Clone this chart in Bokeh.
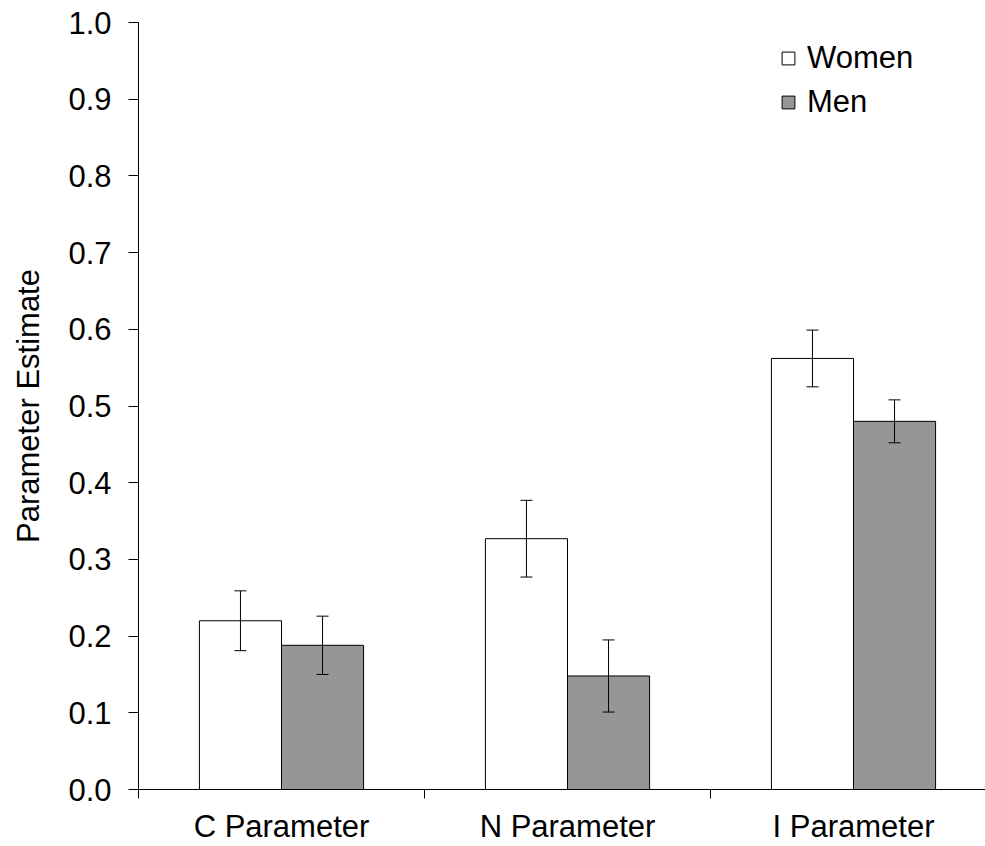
from bokeh.plotting import figure
from bokeh.models import (ColumnDataSource, Range1d, FixedTicker, Whisker, TeeHead,
                          Legend, LegendItem, NumeralTickFormatter)
from bokeh.embed import file_html
from bokeh.resources import INLINE

categories = ["C Parameter", "N Parameter", "I Parameter"]
women = [0.220, 0.327, 0.562]
women_err = [0.039, 0.050, 0.037]
men = [0.188, 0.148, 0.480]
men_err = [0.038, 0.047, 0.028]
y_ticks = [0.0, 0.1, 0.2, 0.3, 0.4, 0.5, 0.6, 0.7, 0.8, 0.9, 1.0]

FONT = "Liberation Sans"
FS = "31px"
BAR_W = 0.287
centers = [i + 0.5 for i in range(len(categories))]
xw = [c - BAR_W / 2 for c in centers]
xm = [c + BAR_W / 2 for c in centers]

src_w = ColumnDataSource(dict(x=xw, top=women, upper=[v + e for v, e in zip(women, women_err)],
                              lower=[v - e for v, e in zip(women, women_err)]))
src_m = ColumnDataSource(dict(x=xm, top=men, upper=[v + e for v, e in zip(men, men_err)],
                              lower=[v - e for v, e in zip(men, men_err)]))

p = figure(width=985, height=846, output_backend="svg", toolbar_location=None,
           x_range=Range1d(0, (985 - 138) / 286), y_range=Range1d(0, 1.0),
           min_border_left=138, min_border_right=0, min_border_top=22, min_border_bottom=57)
p.outline_line_color = None
p.xgrid.visible = False
p.ygrid.visible = False

r_w = p.vbar(x="x", top="top", width=BAR_W, bottom=0, source=src_w,
             fill_color="white", line_color="black", line_width=1)
r_m = p.vbar(x="x", top="top", width=BAR_W, bottom=0, source=src_m,
             fill_color="#969696", line_color="black", line_width=1)

for s in (src_w, src_m):
    w = Whisker(base="x", upper="upper", lower="lower", source=s, dimension="height",
                line_color="black", line_width=1, level="overlay",
                upper_head=TeeHead(size=12, line_color="black", line_width=1),
                lower_head=TeeHead(size=12, line_color="black", line_width=1))
    p.add_layout(w)

# y axis
yax = p.yaxis[0]
yax.ticker = FixedTicker(ticks=y_ticks, minor_ticks=[])
yax.formatter = NumeralTickFormatter(format="0.0")
yax.major_tick_out = 10
yax.major_tick_in = 0
yax.minor_tick_out = 0
yax.minor_tick_in = 0
yax.major_label_text_font = FONT
yax.major_label_text_font_size = FS
yax.major_label_text_color = "black"
yax.major_label_standoff = 17
yax.axis_label = "Parameter Estimate"
yax.axis_label_text_font = FONT
yax.axis_label_text_font_size = FS
yax.axis_label_text_font_style = "normal"
yax.axis_label_text_color = "black"
yax.axis_label_standoff = 19
yax.axis_line_color = "black"
yax.major_tick_line_color = "black"

# x axis
xax = p.xaxis[0]
xax.ticker = FixedTicker(ticks=centers, minor_ticks=[0, 1, 2, 3])
xax.major_label_overrides = {c: lab for c, lab in zip(centers, categories)}
xax.major_tick_out = 0
xax.major_tick_in = 0
xax.minor_tick_out = 9
xax.minor_tick_in = 0
xax.minor_tick_line_color = "black"
xax.major_label_text_font = FONT
xax.major_label_text_font_size = FS
xax.major_label_text_color = "black"
xax.major_label_standoff = 10
xax.axis_line_color = "black"

legend = Legend(items=[LegendItem(label="Women", renderers=[r_w]),
                       LegendItem(label="Men", renderers=[r_m])],
                location=(642, 669), orientation="vertical",
                glyph_width=16, glyph_height=16, label_standoff=11,
                label_text_font=FONT, label_text_font_size=FS, label_text_color="black",
                label_height=35, spacing=8, padding=0, margin=0,
                border_line_color=None, background_fill_alpha=0)
p.add_layout(legend)

open("out.html", "w").write(file_html(p, INLINE))
